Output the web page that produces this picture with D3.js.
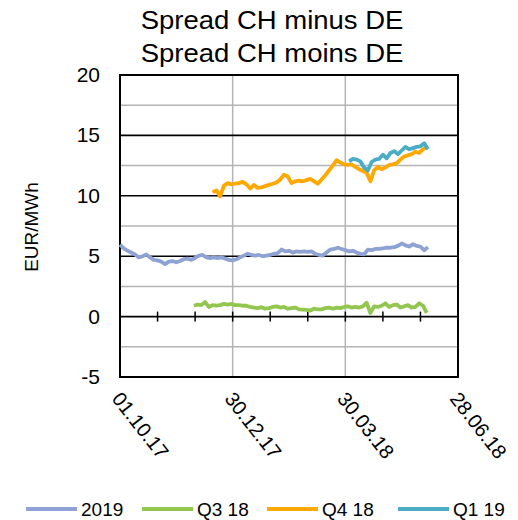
<!DOCTYPE html>
<html>
<head>
<meta charset="utf-8">
<script src="https://cdn.jsdelivr.net/npm/d3@7"></script>
<style>
  body { margin: 0; background: #fff; }
  text { font-family: "Liberation Sans", Arial, sans-serif; fill: #000; }
</style>
</head>
<body>
<div id="chart"></div>
<script>
var width = 518, height = 520;

// series, each starts at its own date, one value every 3 days
var seriesNames = ['2019', 'Q3 18', 'Q4 18', 'Q1 19'];
var seriesColors = ['#8fa2d4', '#92c64e', '#ffa800', '#4bacc6'];
var startDates = ['2017-10-01', '2017-11-29', '2017-12-14', '2018-04-02'];
var stepDays = 3;

var v2019 = [5.95, 5.65, 5.45, 5.3, 5.15, 4.9, 5.0, 5.15, 4.9, 4.7,
  4.65, 4.55, 4.35, 4.55, 4.6, 4.5, 4.6, 4.75, 4.8, 4.7,
  4.85, 5.05, 5.1, 4.9, 4.85, 4.9, 4.85, 4.9, 4.8, 4.7,
  4.65, 4.75, 4.9, 5.05, 5.2, 5.1, 5.05, 5.1, 5.0, 5.05,
  5.1, 5.2, 5.25, 5.55, 5.4, 5.45, 5.3, 5.4, 5.35, 5.4,
  5.35, 5.4, 5.2, 5.1, 5.05, 5.3, 5.55, 5.6, 5.7, 5.6,
  5.5, 5.4, 5.45, 5.3, 5.2, 5.15, 5.55, 5.5, 5.6, 5.6,
  5.65, 5.7, 5.7, 5.75, 5.85, 6.05, 5.9, 5.8, 6.0, 5.85,
  5.8, 5.5, 5.75];

var vQ318 = [0.9, 1.0, 0.95, 1.2, 0.8, 0.95, 0.9, 0.95, 1.05, 1.0,
  1.05, 0.95, 0.95, 0.9, 0.9, 0.8, 0.75, 0.7, 0.78, 0.65,
  0.7, 0.8, 0.85, 0.75, 0.8, 0.65, 0.7, 0.75, 0.6, 0.58,
  0.55, 0.5, 0.65, 0.6, 0.6, 0.7, 0.75, 0.65, 0.75, 0.7,
  0.8, 0.85, 0.75, 0.8, 0.75, 0.85, 1.15, 0.3, 0.85, 0.8,
  0.9, 1.1, 0.8, 0.95, 1.0, 0.75, 0.85, 0.95, 0.75, 0.8,
  1.1, 0.9, 0.3];

var vQ418 = [10.3, 10.45, 9.95, 10.85, 11.05, 10.95, 11.0, 11.05, 11.15, 10.95,
  10.6, 10.9, 10.65, 10.7, 10.8, 10.9, 11.0, 11.1, 11.35, 11.75,
  11.6, 11.05, 11.2, 11.25, 11.2, 11.3, 11.4, 11.2, 11.0, 11.35,
  11.7, 12.1, 12.5, 12.95, 12.75, 12.6, 12.55, 12.6, 12.4, 12.2,
  12.05, 11.9, 11.2, 12.1, 12.4, 12.2, 12.35, 12.55, 12.6, 12.7,
  13.0, 13.25, 13.35, 13.45, 13.65, 13.55, 13.85, 14.05];

var vQ119 = [12.85, 13.05, 13.0, 12.85, 12.35, 12.1, 12.8, 13.0, 13.05, 13.4,
  13.1, 13.55, 13.7, 13.45, 13.75, 14.05, 13.85, 13.95, 14.05, 14.1,
  14.35, 13.85];

var seriesValues = [v2019, vQ318, vQ418, vQ119];

var yTicks = [-5, 0, 5, 10, 15, 20];
var yMinor = [-2.5, 2.5, 7.5, 12.5, 17.5];
var xTickDates = ['2017-10-01', '2017-12-30', '2018-03-30', '2018-06-28'];
var xTickLabels = ['01.10.17', '30.12.17', '30.03.18', '28.06.18'];

var parse = d3.utcParse('%Y-%m-%d');

var margin = {left: 120, right: 60, top: 75, bottom: 143};
var svg = d3.select('#chart').append('svg')
  .attr('width', width)
  .attr('height', height);

var x = d3.scaleUtc()
  .domain([parse(xTickDates[0]), parse(xTickDates[3])])
  .range([margin.left, width - margin.right]);
var y = d3.scaleLinear()
  .domain([-5, 20])
  .range([height - margin.bottom, margin.top]);

// grey gridlines
svg.append('g').selectAll('line')
  .data(yMinor)
  .enter().append('line')
  .attr('x1', x.range()[0]).attr('x2', x.range()[1])
  .attr('y1', d => y(d)).attr('y2', d => y(d))
  .attr('stroke', '#b4b4b4').attr('stroke-width', 1.5);

svg.append('g').selectAll('line')
  .data(xTickDates.slice(1, 3))
  .enter().append('line')
  .attr('x1', d => x(parse(d))).attr('x2', d => x(parse(d)))
  .attr('y1', y(-5)).attr('y2', y(20))
  .attr('stroke', '#b4b4b4').attr('stroke-width', 1.5);

// black major gridlines
svg.append('g').selectAll('line')
  .data(yTicks)
  .enter().append('line')
  .attr('x1', x.range()[0]).attr('x2', x.range()[1])
  .attr('y1', d => y(d)).attr('y2', d => y(d))
  .attr('stroke', '#000').attr('stroke-width', 1.6);

// frame
svg.append('rect')
  .attr('x', x.range()[0]).attr('y', y(20))
  .attr('width', x.range()[1] - x.range()[0])
  .attr('height', y(-5) - y(20))
  .attr('fill', 'none').attr('stroke', '#000').attr('stroke-width', 2);

// small ticks across the zero line, every 30 days
var minorTickDates = d3.utcDay.range(parse(xTickDates[0]), parse(xTickDates[3]), 1)
  .filter((d, i) => i > 0 && i % 30 === 0);
svg.append('g').selectAll('line')
  .data(minorTickDates)
  .enter().append('line')
  .attr('x1', d => x(d)).attr('x2', d => x(d))
  .attr('y1', y(0) - 5).attr('y2', y(0) + 5)
  .attr('stroke', '#000').attr('stroke-width', 1.5);

// series lines
var line = d3.line()
  .x(d => x(d.date))
  .y(d => y(d.value));

seriesValues.forEach(function(vals, s) {
  var start = parse(startDates[s]);
  var pts = vals.map((v, i) => ({date: d3.utcDay.offset(start, i * stepDays), value: v}));
  svg.append('path')
    .datum(pts)
    .attr('d', line)
    .attr('fill', 'none')
    .attr('stroke', seriesColors[s])
    .attr('stroke-width', 3.8)
    .attr('stroke-linejoin', 'round');
});

// y tick labels
svg.append('g').selectAll('text')
  .data(yTicks)
  .enter().append('text')
  .attr('x', 100)
  .attr('y', d => y(d) + 7)
  .attr('text-anchor', 'end')
  .attr('font-size', 21)
  .text(d => d);

// x tick labels, rotated
svg.append('g').selectAll('text')
  .data(xTickDates)
  .enter().append('text')
  .attr('transform', d => 'translate(' + (x(parse(d)) - 9) + ',' + (y(-5) + 22) + ') rotate(52)')
  .attr('font-size', 20)
  .text((d, i) => xTickLabels[i]);

// y axis title
svg.append('text')
  .attr('transform', 'translate(38,227) rotate(-90)')
  .attr('text-anchor', 'middle')
  .attr('font-size', 19)
  .text('EUR/MWh');

// chart title (slightly stretched, like the original)
['Spread CH minus DE', 'Spread CH moins DE'].forEach(function(t, i) {
  svg.append('text')
    .attr('transform', 'translate(272,' + (29 + i * 33) + ') scale(1.1,1)')
    .attr('text-anchor', 'middle')
    .attr('font-size', 25)
    .text(t);
});

// legend
var legendX = [26, 142, 267, 398];
var lg = svg.append('g').selectAll('g')
  .data(seriesNames)
  .enter().append('g')
  .attr('transform', (d, i) => 'translate(' + legendX[i] + ',509)');
lg.append('line')
  .attr('x1', 0).attr('x2', 51)
  .attr('stroke', (d, i) => seriesColors[i])
  .attr('stroke-width', 4);
lg.append('text')
  .attr('x', 55).attr('y', 7)
  .attr('font-size', 19)
  .text(d => d);
</script>
</body>
</html>
